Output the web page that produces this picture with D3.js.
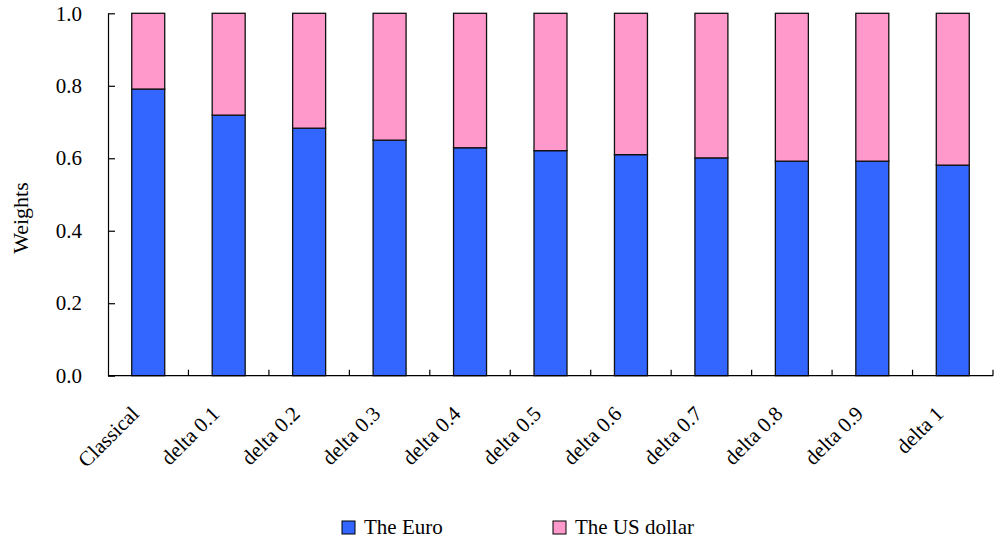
<!DOCTYPE html>
<html>
<head>
<meta charset="utf-8">
<script src="https://cdn.jsdelivr.net/npm/d3@7"></script>
<style>
  html, body { margin: 0; padding: 0; background: #fff; }
  svg { display: block; }
  text { font-family: "Liberation Serif", "Times New Roman", serif; fill: #000; }
</style>
</head>
<body>
<svg id="chart" width="996" height="541"></svg>
<script>
// Portfolio weights per scenario
const categories = ["Classical", "delta 0.1", "delta 0.2", "delta 0.3", "delta 0.4", "delta 0.5",
                    "delta 0.6", "delta 0.7", "delta 0.8", "delta 0.9", "delta 1"];
const euroWeights = [0.791, 0.719, 0.683, 0.650, 0.629, 0.621, 0.610, 0.601, 0.592, 0.592, 0.581];
const usdWeights  = [0.209, 0.281, 0.317, 0.350, 0.371, 0.379, 0.390, 0.399, 0.408, 0.408, 0.419];
const seriesNames = ["The Euro", "The US dollar"];
const seriesColors = ["#3366FF", "#FF99CC"];
const yTicks = [0, 0.2, 0.4, 0.6, 0.8, 1.0];

const svg = d3.select("#chart");
const plotLeft = 108, plotRight = 993, plotTop = 13.3, plotBottom = 375.7;

const x = d3.scaleBand().domain(categories).range([plotLeft, plotRight]).paddingInner(0.59).paddingOuter(0.295);
const xBand = d3.scaleBand().domain(categories).range([plotLeft, plotRight]);
const y = d3.scaleLinear().domain([0, 1]).range([plotBottom, plotTop]);

const rows = categories.map((c, i) => ({ cat: c, euro: euroWeights[i], usd: usdWeights[i] }));
const stacked = d3.stack().keys(["euro", "usd"])(rows);

// stacked bars
svg.append("g").selectAll("g")
  .data(stacked)
  .join("g")
  .attr("fill", (d, i) => seriesColors[i])
  .selectAll("rect")
  .data(d => d)
  .join("rect")
  .attr("x", d => x(d.data.cat))
  .attr("width", x.bandwidth())
  .attr("y", d => y(d[1]))
  .attr("height", d => y(d[0]) - y(d[1]))
  .attr("stroke", "#111")
  .attr("stroke-width", 1.3);

// y axis
const yAxis = d3.axisLeft(y).tickValues(yTicks).tickFormat(d3.format(".1f")).tickSizeInner(-7).tickSizeOuter(0).tickPadding(26);
const gy = svg.append("g").attr("transform", `translate(${plotLeft},0)`).call(yAxis);
gy.select(".domain").attr("stroke", "#000").attr("stroke-width", 1.2);
gy.selectAll(".tick line").attr("stroke", "#000").attr("stroke-width", 1.2);
gy.selectAll(".tick text").attr("font-size", 21).attr("fill", "#000");

// x axis line with category separator ticks
svg.append("line")
  .attr("x1", plotLeft).attr("x2", plotRight).attr("y1", plotBottom).attr("y2", plotBottom)
  .attr("stroke", "#000").attr("stroke-width", 1.2);
svg.append("g").selectAll("line")
  .data(categories)
  .join("line")
  .attr("x1", d => xBand(d) + xBand.bandwidth())
  .attr("x2", d => xBand(d) + xBand.bandwidth())
  .attr("y1", plotBottom).attr("y2", plotBottom - 6)
  .attr("stroke", "#000").attr("stroke-width", 1.2);

// rotated category labels
svg.append("g").selectAll("text")
  .data(categories)
  .join("text")
  .attr("transform", d => `translate(${xBand(d) + xBand.bandwidth() / 2 - 8},415) rotate(-45)`)
  .attr("text-anchor", "end")
  .attr("font-size", 21)
  .text(d => d);

// y axis title
svg.append("text")
  .attr("transform", "translate(28,218) rotate(-90)")
  .attr("text-anchor", "middle")
  .attr("font-size", 22)
  .text("Weights");

// legend
const legendX = [342, 553];
const lg = svg.append("g").selectAll("g")
  .data(seriesNames)
  .join("g")
  .attr("transform", (d, i) => `translate(${legendX[i]},521)`);
lg.append("rect")
  .attr("width", 13).attr("height", 13)
  .attr("fill", (d, i) => seriesColors[i])
  .attr("stroke", "#000").attr("stroke-width", 1);
lg.append("text")
  .attr("x", 22).attr("y", 13)
  .attr("font-size", 21)
  .text(d => d);
</script>
</body>
</html>
